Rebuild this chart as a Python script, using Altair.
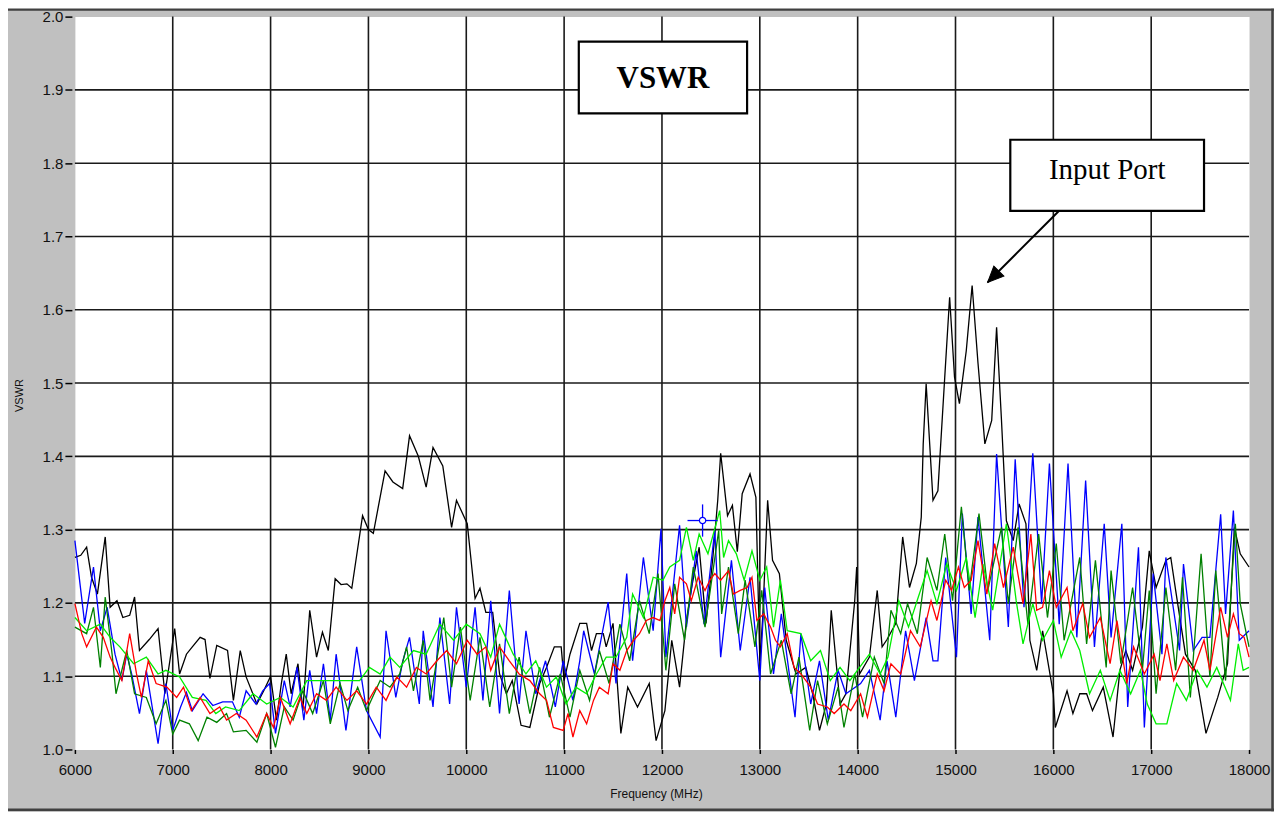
import altair as alt
import pandas as pd

# ---------------- data ----------------
X_TICKS = [6000, 7000, 8000, 9000, 10000, 11000, 12000, 13000, 14000, 15000, 16000, 17000, 18000]
Y_TICKS = [1.0, 1.1, 1.2, 1.3, 1.4, 1.5, 1.6, 1.7, 1.8, 1.9, 2.0]
X_GRID = [7000, 8000, 9000, 10000, 11000, 12000, 13000, 14000, 15000, 16000, 17000]
Y_GRID = [1.1, 1.2, 1.3, 1.4, 1.5, 1.6, 1.7, 1.8, 1.9]

black_f = [6000, 6060, 6120, 6170, 6230, 6310, 6360, 6430, 6490, 6560, 6610, 6660, 6760, 6850, 6920,
           7020, 7070, 7140, 7200, 7280, 7330, 7380, 7450, 7560, 7620, 7690, 7750, 7860, 7930, 8000,
           8060, 8110, 8160, 8210, 8280, 8330, 8400, 8470, 8530, 8590, 8660, 8720, 8780, 8830, 8940,
           9000, 9050, 9170, 9250, 9350, 9420, 9510, 9590, 9660, 9760, 9850, 9900, 10010, 10090, 10140,
           10200, 10270, 10340, 10410, 10470, 10560, 10650, 10750, 10820, 10900, 10970, 11000, 11060,
           11160, 11230, 11280, 11330, 11400, 11430, 11500, 11580, 11650, 11750, 11870, 11940, 12030,
           12100, 12180, 12250, 12310, 12380, 12450, 12520, 12570, 12600, 12670, 12720, 12770, 12820,
           12900, 12960, 13000, 13030, 13080, 13130, 13200, 13270, 13370, 13470, 13540, 13610, 13680,
           13730, 13820, 13880, 13970, 13990, 14020, 14120, 14200, 14250, 14300, 14390, 14460, 14530,
           14600, 14650, 14670, 14700, 14770, 14820, 14890, 14940, 14990, 15040, 15110, 15170, 15230,
           15300, 15370, 15420, 15470, 15520, 15590, 15650, 15720, 15760, 15830, 15890, 16000, 16020,
           16140, 16200, 16270, 16340, 16400, 16510, 16610, 16680, 16740, 16810, 16910, 16980, 17050,
           17150, 17200, 17250, 17350, 17450, 17560, 17680, 17780, 17850, 17910, 18000]
black_v = [1.262, 1.265, 1.276, 1.235, 1.212, 1.290, 1.194, 1.203, 1.180, 1.183, 1.208, 1.135, 1.150, 1.165, 1.076,
           1.165, 1.103, 1.130, 1.140, 1.153, 1.150, 1.097, 1.142, 1.135, 1.067, 1.135, 1.099, 1.062, 1.080, 1.100,
           1.040, 1.090, 1.130, 1.076, 1.117, 1.053, 1.190, 1.126, 1.160, 1.135, 1.233, 1.225, 1.226, 1.220, 1.319,
           1.300, 1.295, 1.380, 1.365, 1.356, 1.428, 1.400, 1.358, 1.412, 1.387, 1.303, 1.340, 1.308, 1.206, 1.220,
           1.187, 1.187, 1.103, 1.076, 1.094, 1.033, 1.030, 1.090, 1.112, 1.140, 1.140, 1.094, 1.130,
           1.172, 1.172, 1.135, 1.158, 1.158, 1.140, 1.172, 1.022, 1.085, 1.058, 1.090, 1.012, 1.053,
           1.149, 1.085, 1.176, 1.226, 1.276, 1.172, 1.262, 1.340, 1.404, 1.319, 1.333, 1.270, 1.349,
           1.376, 1.344, 1.121, 1.180, 1.340, 1.258, 1.240, 1.149, 1.103, 1.112, 1.076, 1.026, 1.062,
           1.190, 1.062, 1.076, 1.203, 1.249, 1.103, 1.126, 1.217, 1.140, 1.150, 1.172, 1.290, 1.221,
           1.254, 1.317, 1.417, 1.499, 1.340, 1.353, 1.508, 1.617, 1.508, 1.472, 1.544, 1.633, 1.527,
           1.417, 1.449, 1.576, 1.449, 1.312, 1.285, 1.335, 1.308, 1.149, 1.108, 1.162, 1.076, 1.030,
           1.080, 1.049, 1.076, 1.076, 1.053, 1.085, 1.017, 1.108, 1.135, 1.108, 1.167, 1.271, 1.221,
           1.258, 1.262, 1.217, 1.130, 1.108, 1.022, 1.071, 1.117, 1.303, 1.267, 1.249]

red_f = [6000, 6070, 6120, 6220, 6290, 6360, 6410, 6480, 6560, 6630, 6680, 6750, 6830, 6940, 7040, 7110,
         7190, 7280, 7380, 7480, 7550, 7650, 7750, 7860, 7960, 8030, 8100, 8200, 8300, 8370, 8470, 8570,
         8670, 8780, 8880, 8980, 9080, 9180, 9290, 9390, 9490, 9590, 9700, 9800, 9900, 10010, 10110, 10200,
         10250, 10340, 10440, 10540, 10650, 10750, 10820, 10890, 10990, 11040, 11090, 11160, 11230, 11300,
         11360, 11450, 11500, 11570, 11640, 11710, 11770, 11840, 11910, 11980, 12030, 12080, 12130, 12180,
         12250, 12300, 12370, 12440, 12490, 12540, 12600, 12680, 12730, 12800, 12870, 12920, 12970, 13040,
         13110, 13160, 13210, 13280, 13350, 13420, 13520, 13590, 13690, 13760, 13860, 13930, 14030, 14100,
         14200, 14270, 14340, 14440, 14540, 14640, 14750, 14810, 14900, 14960, 15030, 15090, 15160, 15230,
         15320, 15400, 15490, 15590, 15690, 15770, 15830, 15890, 15960, 16030, 16140, 16200, 16300, 16370,
         16480, 16580, 16650, 16750, 16820, 16930, 17030, 17090, 17160, 17230, 17330, 17430, 17540, 17600,
         17710, 17780, 17840, 17900, 17950, 18000]
red_v = [1.199, 1.158, 1.140, 1.167, 1.153, 1.126, 1.112, 1.094, 1.158, 1.103, 1.071, 1.121, 1.090, 1.085, 1.071, 1.085,
         1.053, 1.071, 1.049, 1.058, 1.040, 1.049, 1.040, 1.017, 1.049, 1.030, 1.071, 1.035, 1.071, 1.049, 1.076, 1.067,
         1.085, 1.067, 1.080, 1.062, 1.085, 1.067, 1.099, 1.085, 1.112, 1.103, 1.121, 1.135, 1.117, 1.149, 1.130, 1.140,
         1.108, 1.140, 1.121, 1.103, 1.094, 1.076, 1.067, 1.030, 1.026, 1.049, 1.017, 1.053, 1.035, 1.067,
         1.085, 1.076, 1.117, 1.108, 1.135, 1.149, 1.158, 1.176, 1.180, 1.176, 1.203, 1.221, 1.185, 1.235,
         1.226, 1.203, 1.235, 1.217, 1.231, 1.240, 1.231, 1.244, 1.212, 1.217, 1.221, 1.235, 1.176, 1.185,
         1.167, 1.149, 1.140, 1.158, 1.112, 1.103, 1.085, 1.062, 1.058, 1.049, 1.062, 1.053, 1.076, 1.044,
         1.103, 1.080, 1.117, 1.103, 1.162, 1.140, 1.203, 1.176, 1.231, 1.217, 1.249, 1.221, 1.231, 1.285,
         1.212, 1.281, 1.221, 1.276, 1.199, 1.294, 1.190, 1.194, 1.244, 1.194, 1.221, 1.162, 1.199, 1.153,
         1.180, 1.117, 1.176, 1.090, 1.140, 1.103, 1.130, 1.094, 1.144, 1.094, 1.126, 1.108, 1.149, 1.108,
         1.194, 1.153, 1.185, 1.158, 1.153, 1.126]

blue_f = [6000, 6100, 6190, 6260, 6330, 6410, 6480, 6530, 6580, 6660, 6730, 6850, 6930, 7000, 7080, 7140,
          7200, 7310, 7410, 7510, 7610, 7680, 7750, 7850, 7920, 7990, 8050, 8140, 8200, 8270, 8340, 8400,
          8470, 8540, 8610, 8670, 8770, 8880, 8980, 9120, 9180, 9280, 9350, 9420, 9520, 9560, 9660, 9730,
          9830, 9900, 10000, 10090, 10170, 10250, 10340, 10440, 10540, 10610, 10710, 10810, 10910, 10990,
          11090, 11160, 11200, 11310, 11450, 11530, 11640, 11700, 11810, 11910, 11990, 12040, 12180, 12250,
          12350, 12430, 12540, 12600, 12710, 12800, 12900, 13000, 13050, 13140, 13220, 13360, 13420, 13520,
          13610, 13700, 13800, 13880, 14030, 14120, 14230, 14300, 14390, 14490, 14580, 14700, 14770, 14820,
          14900, 15010, 15070, 15160, 15230, 15350, 15420, 15540, 15610, 15700, 15790, 15880, 15960, 16060,
          16150, 16240, 16330, 16420, 16520, 16590, 16700, 16760, 16870, 16930, 17020, 17110, 17150, 17290,
          17330, 17430, 17520, 17600, 17710, 17760, 17840, 17900, 18000]
blue_v = [1.285, 1.172, 1.249, 1.162, 1.194, 1.130, 1.094, 1.130, 1.103, 1.049, 1.108, 1.008, 1.090, 1.026, 1.058, 1.078,
          1.053, 1.076, 1.060, 1.065, 1.065, 1.044, 1.080, 1.062, 1.080, 1.090, 1.022, 1.094, 1.058, 1.112, 1.040, 1.108,
          1.049, 1.117, 1.040, 1.130, 1.026, 1.140, 1.053, 1.017, 1.162, 1.071, 1.120, 1.153, 1.062, 1.162, 1.058, 1.180,
          1.062, 1.194, 1.085, 1.194, 1.067, 1.203, 1.049, 1.217, 1.062, 1.162, 1.076, 1.121, 1.058, 1.121,
          1.067, 1.121, 1.162, 1.103, 1.201, 1.090, 1.240, 1.121, 1.262, 1.162, 1.301, 1.126, 1.306, 1.167,
          1.271, 1.171, 1.299, 1.126, 1.258, 1.135, 1.235, 1.094, 1.221, 1.103, 1.185, 1.044, 1.158, 1.062,
          1.121, 1.040, 1.108, 1.076, 1.090, 1.108, 1.040, 1.121, 1.044, 1.162, 1.094, 1.180, 1.121, 1.121,
          1.262, 1.126, 1.322, 1.185, 1.317, 1.149, 1.403, 1.167, 1.396, 1.194, 1.404, 1.199, 1.390, 1.171,
          1.390, 1.153, 1.367, 1.140, 1.308, 1.153, 1.308, 1.058, 1.276, 1.030, 1.240, 1.130, 1.262, 1.135,
          1.253, 1.135, 1.153, 1.153, 1.321, 1.185, 1.326, 1.149, 1.162]

dkgreen_f = [6000, 6120, 6190, 6260, 6310, 6380, 6420, 6530, 6610, 6730, 6830, 6930, 7000, 7070, 7170, 7260,
             7350, 7450, 7550, 7620, 7750, 7860, 7960, 8050, 8140, 8230, 8330, 8430, 8540, 8610, 8710, 8790,
             8890, 8980, 9120, 9220, 9320, 9390, 9460, 9560, 9630, 9770, 9850, 9940, 10040, 10140, 10240, 10340,
             10440, 10540, 10650, 10750, 10850, 10960, 11060, 11160, 11260, 11360, 11460, 11570, 11670, 11770,
             11870, 11960, 12040, 12130, 12230, 12320, 12440, 12580, 12610, 12680, 12780, 12850, 12950, 13020,
             13110, 13220, 13320, 13400, 13510, 13590, 13690, 13800, 13860, 13970, 14050, 14170, 14270, 14340,
             14440, 14510, 14610, 14710, 14810, 14890, 14970, 15060, 15140, 15240, 15330, 15470, 15540, 15640,
             15740, 15850, 15940, 16030, 16110, 16270, 16340, 16430, 16540, 16590, 16690, 16810, 16910, 16980,
             17050, 17150, 17250, 17320, 17400, 17510, 17600, 17660, 17760, 17860, 17910, 18000]
dkgreen_v = [1.167, 1.158, 1.194, 1.112, 1.208, 1.130, 1.076, 1.135, 1.076, 1.071, 1.035, 1.067, 1.021, 1.040, 1.035, 1.012,
             1.044, 1.037, 1.049, 1.024, 1.026, 1.010, 1.049, 1.003, 1.058, 1.040, 1.080, 1.049, 1.094, 1.035, 1.090, 1.053,
             1.085, 1.053, 1.094, 1.085, 1.103, 1.140, 1.080, 1.149, 1.067, 1.180, 1.085, 1.167, 1.067, 1.153, 1.058, 1.144,
             1.049, 1.126, 1.049, 1.112, 1.044, 1.103, 1.044, 1.108, 1.067, 1.135, 1.090, 1.171, 1.121, 1.203,
             1.158, 1.240, 1.108, 1.226, 1.149, 1.249, 1.167, 1.299, 1.185, 1.249, 1.158, 1.231, 1.140, 1.217,
             1.103, 1.149, 1.076, 1.126, 1.026, 1.094, 1.035, 1.085, 1.030, 1.103, 1.044, 1.126, 1.090, 1.190,
             1.158, 1.199, 1.158, 1.262, 1.217, 1.294, 1.203, 1.331, 1.217, 1.322, 1.217, 1.303, 1.199, 1.303,
             1.171, 1.294, 1.180, 1.281, 1.149, 1.262, 1.144, 1.258, 1.112, 1.244, 1.117, 1.221, 1.108, 1.217,
             1.076, 1.221, 1.108, 1.235, 1.071, 1.267, 1.099, 1.244, 1.094, 1.308, 1.199, 1.140]

green_f = [6000, 6120, 6260, 6360, 6460, 6600, 6730, 6850, 6930, 7070, 7200, 7340, 7440, 7540, 7680, 7820,
           7960, 8100, 8230, 8370, 8500, 8640, 8780, 8910, 9010, 9120, 9220, 9320, 9460, 9590, 9730, 9870,
           10000, 10140, 10250, 10340, 10480, 10610, 10710, 10820, 10920, 11020, 11120, 11230, 11330, 11430,
           11530, 11640, 11700, 11810, 11910, 12010, 12080, 12180, 12250, 12320, 12380, 12470, 12590, 12630,
           12680, 12760, 12840, 12920, 13000, 13070, 13140, 13210, 13280, 13420, 13520, 13620, 13720, 13820,
           13920, 14020, 14120, 14230, 14310, 14420, 14520, 14620, 14710, 14810, 14910, 15010, 15110, 15200,
           15280, 15380, 15520, 15620, 15690, 15790, 15890, 16000, 16080, 16180, 16270, 16370, 16480, 16580,
           16680, 16790, 16890, 16960, 17050, 17160, 17260, 17360, 17470, 17570, 17670, 17810, 17890, 17940, 18000]
green_v = [1.180, 1.162, 1.171, 1.153, 1.140, 1.117, 1.126, 1.103, 1.108, 1.099, 1.071, 1.067, 1.049, 1.058, 1.053, 1.076,
           1.062, 1.071, 1.058, 1.094, 1.094, 1.094, 1.094, 1.094, 1.112, 1.103, 1.126, 1.112, 1.135, 1.130, 1.171, 1.149,
           1.171, 1.158, 1.126, 1.171, 1.130, 1.103, 1.121, 1.085, 1.099, 1.062, 1.085, 1.076, 1.103, 1.126,
           1.126, 1.153, 1.212, 1.180, 1.235, 1.231, 1.249, 1.258, 1.303, 1.258, 1.294, 1.267, 1.326, 1.262,
           1.285, 1.267, 1.231, 1.271, 1.231, 1.249, 1.167, 1.231, 1.162, 1.158, 1.121, 1.135, 1.094, 1.112,
           1.094, 1.112, 1.130, 1.103, 1.126, 1.203, 1.167, 1.208, 1.244, 1.199, 1.253, 1.217, 1.262, 1.180,
           1.253, 1.190, 1.308, 1.203, 1.144, 1.199, 1.149, 1.176, 1.126, 1.162, 1.135, 1.076, 1.108, 1.067,
           1.108, 1.076, 1.108, 1.062, 1.035, 1.035, 1.090, 1.067, 1.108, 1.085, 1.112, 1.067, 1.144, 1.108, 1.112]

# annotations (data coordinates)
box_f = [11150, 15560]
box_f2 = [12870, 17540]
box_v = [1.9660, 1.8320]
box_v2 = [1.8680, 1.7350]
label_text = ["VSWR", "Input Port"]
label_f = [12010, 16550]
label_v = [1.9150, 1.7905]
arrow_f = [16054, 15329]
arrow_v = [1.7344, 1.6375]
cursor_f, cursor_v = 12415, 1.3124

W, H = 1176, 734

XAXIS = alt.Axis(values=X_TICKS, format="d", title="Frequency (MHz)", grid=False, domain=False,
                 ticks=True, tickSize=4, tickWidth=1.5, tickColor="#000000", labelPadding=9,
                 labelFont="Liberation Sans", labelFontSize=15, labelColor="#111111", labelFlush=False,
                 labelOverlap=False, titleFont="Liberation Sans", titleFontSize=12, titleFontWeight="normal",
                 titleColor="#111111", titleX=582, titleY=44, titleBaseline="middle", titleAlign="center")
YAXIS = alt.Axis(values=Y_TICKS, format=".1f", title="VSWR", grid=False, domain=False,
                 ticks=True, tickSize=7, tickWidth=1.5, tickColor="#000000", offset=3, labelPadding=2,
                 labelFont="Liberation Sans", labelFontSize=15, labelColor="#111111", labelFlush=False,
                 labelOverlap=False, titleFont="Liberation Sans", titleFontSize=11, titleFontWeight="normal",
                 titleColor="#111111", titleX=-52, titleY=379, titleAngle=270, titleBaseline="middle",
                 titleAlign="center")
XS = alt.Scale(domain=[6000, 18000], nice=False, zero=False)
YS = alt.Scale(domain=[1.0, 2.0], nice=False, zero=False)


def X(field="f"):
    return alt.X(f"{field}:Q", scale=XS, axis=XAXIS)


def Y(field="v"):
    return alt.Y(f"{field}:Q", scale=YS, axis=YAXIS)


grid_x = alt.Chart(pd.DataFrame({"f": X_GRID})).mark_rule(color="#1a1a1a", strokeWidth=1.6).encode(x=X())
grid_y = alt.Chart(pd.DataFrame({"v": Y_GRID})).mark_rule(color="#1a1a1a", strokeWidth=1.6).encode(y=Y())


def series(fs, vs, color):
    df = pd.DataFrame({"f": fs, "v": vs})
    return alt.Chart(df).mark_line(color=color, strokeWidth=1.3, strokeJoin="miter").encode(x=X(), y=Y())


lines = [
    series(black_f, black_v, "#000000"),
    series(blue_f, blue_v, "#0000FF"),
    series(dkgreen_f, dkgreen_v, "#008000"),
    series(green_f, green_v, "#00EE00"),
    series(red_f, red_v, "#FF0000"),
]

# blue cursor
cur_h = alt.Chart(pd.DataFrame({"f": [cursor_f - 154], "f2": [cursor_f + 153], "v": [cursor_v]})).mark_rule(
    color="#0000FF", strokeWidth=1.3).encode(x=X(), x2="f2:Q", y=Y())
cur_v = alt.Chart(pd.DataFrame({"f": [cursor_f], "v": [cursor_v - 0.022], "v2": [cursor_v + 0.022]})).mark_rule(
    color="#0000FF", strokeWidth=1.3).encode(x=X(), y=Y(), y2="v2:Q")
cur_c = alt.Chart(pd.DataFrame({"f": [cursor_f], "v": [cursor_v]})).mark_point(
    shape="circle", size=40, stroke="#0000FF", fill="white", filled=False, strokeWidth=1.2, opacity=1,
    fillOpacity=1).encode(x=X(), y=Y())

boxes_df = pd.DataFrame({"f": box_f, "f2": box_f2, "v": box_v, "v2": box_v2})
boxes = alt.Chart(boxes_df).mark_rect(fill="white", stroke="black", strokeWidth=2.2).encode(
    x=X(), x2="f2:Q", y=Y(), y2="v2:Q")

t1 = alt.Chart(pd.DataFrame({"f": [label_f[0]], "v": [label_v[0]], "t": [label_text[0]]})).mark_text(
    font="Liberation Serif", fontSize=31, fontWeight="bold", color="black", align="center",
    baseline="middle").encode(x=X(), y=Y(), text="t:N")
t2 = alt.Chart(pd.DataFrame({"f": [label_f[1]], "v": [label_v[1]], "t": [label_text[1]]})).mark_text(
    font="Liberation Serif", fontSize=29, color="black", align="center",
    baseline="middle").encode(x=X(), y=Y(), text="t:N")

arrow_line = alt.Chart(pd.DataFrame({"f": arrow_f, "v": arrow_v})).mark_line(
    color="black", strokeWidth=2).encode(x=X(), y=Y())
arrow_head = alt.Chart(pd.DataFrame({"f": [arrow_f[1]], "v": [arrow_v[1]]})).mark_point(
    shape="M 0 0 L 0.45 1 L -0.45 1 Z", size=1000, angle=225, filled=True, fill="black",
    stroke="black", strokeWidth=1, opacity=1).encode(x=X(), y=Y())

# window frame (decoration)
frame_top = alt.Chart().mark_rule(color="#404040", strokeWidth=2).encode(
    x=alt.value(-67), x2=alt.value(W + 25), y=alt.value(-7))
frame_right = alt.Chart().mark_rule(color="#404040", strokeWidth=2.5).encode(
    x=alt.value(W + 23.5), y=alt.value(-8), y2=alt.value(H + 62))
frame_bottom = alt.Chart().mark_rule(color="#404040", strokeWidth=2.5).encode(
    x=alt.value(-67), x2=alt.value(W + 25), y=alt.value(H + 60.5))

chart = alt.layer(
    grid_x, grid_y, *lines, cur_h, cur_v, cur_c, boxes, t1, t2, arrow_line, arrow_head,
    frame_top, frame_right, frame_bottom
).properties(
    width=W, height=H, background="#C0C0C0",
    padding={"left": 67, "top": 8, "right": 25, "bottom": 62},
    autosize=alt.AutoSizeParams(type="none"),
).configure_view(fill="white", stroke="transparent")

chart.save("out.html", embed_options={"renderer": "svg", "actions": False})
